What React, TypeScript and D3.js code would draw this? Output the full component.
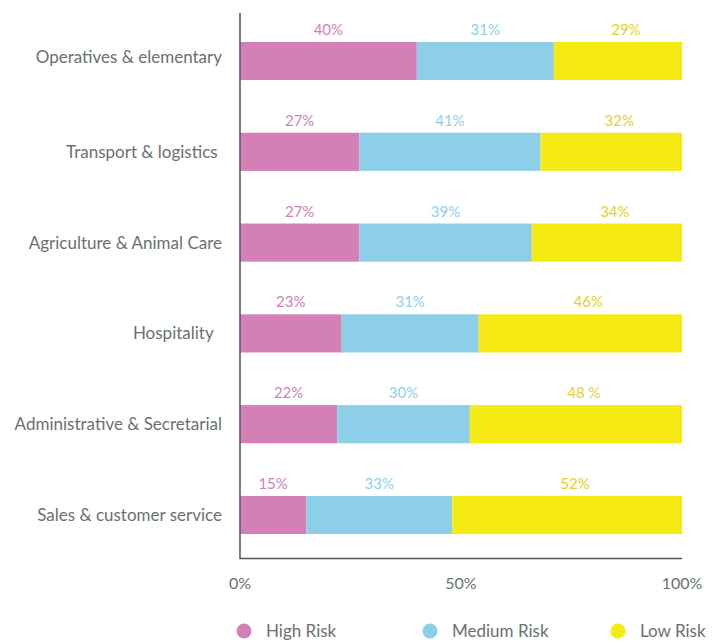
import React, { useRef, useEffect } from 'react';
import * as d3 from 'd3';

const categories = [
  'Operatives & elementary',
  'Transport & logistics ',
  'Agriculture & Animal Care',
  'Hospitality  ',
  'Administrative & Secretarial',
  'Sales & customer service',
];
const highRisk = [40, 27, 27, 23, 22, 15];
const mediumRisk = [31, 41, 39, 31, 30, 33];
const lowRisk = [29, 32, 34, 46, 48, 52];
const seriesNames = ['High Risk', 'Medium Risk', 'Low Risk'];
const tickLabels = [0, 50, 100];

const colors = ['#d480b6', '#8dcfe8', '#f6ea14'];
const labelColors = ['#d47fb8', '#8fd0ea', '#e6cf2a'];

const App = () => {
  const ref = useRef<SVGSVGElement>(null);

  useEffect(() => {
    if (!ref.current) return;
    const svg = d3.select(ref.current);
    svg.selectAll('*').remove();

    const width = 721;
    const height = 641;
    svg.attr('width', width).attr('height', height);

    const left = 240;
    const right = 682;
    const x = d3.scaleLinear().domain([0, 100]).range([left, right]);
    const y = d3
      .scaleBand()
      .domain(categories)
      .range([15.6, 560.4])
      .paddingInner(0.58)
      .paddingOuter(0.29);

    const rows = categories.map((c, i) => ({
      name: c,
      'High Risk': highRisk[i],
      'Medium Risk': mediumRisk[i],
      'Low Risk': lowRisk[i],
    }));
    const stacked = d3.stack<any>().keys(seriesNames)(rows);

    const font = 'Lato, "Open Sans", sans-serif';

    // bars
    stacked.forEach((layer, si) => {
      svg
        .append('g')
        .selectAll('rect')
        .data(layer)
        .enter()
        .append('rect')
        .attr('x', (d) => x(d[0]))
        .attr('y', (d) => y(d.data.name) as number)
        .attr('width', (d) => x(d[1]) - x(d[0]))
        .attr('height', y.bandwidth())
        .attr('fill', colors[si]);

      // value labels above the segments
      svg
        .append('g')
        .selectAll('text')
        .data(layer)
        .enter()
        .append('text')
        .text((d, i) => (si === 2 && i === 4 ? `${d[1] - d[0]} %` : `${d[1] - d[0]}%`))
        .attr('x', (d) => (x(d[0]) + x(d[1])) / 2 + (si === 2 ? 8 : 0))
        .attr('y', (d) => (y(d.data.name) as number) - 7)
        .attr('text-anchor', 'middle')
        .attr('font-size', '15px')
        .attr('fill', labelColors[si])
        .style('font-family', font);
    });

    // axis lines
    svg
      .append('path')
      .attr('d', `M${left},13V${y.range()[1] - 2}H${right}`)
      .attr('fill', 'none')
      .attr('stroke', '#555')
      .attr('stroke-width', 1.5);

    // category labels
    svg
      .append('g')
      .selectAll('text')
      .data(categories)
      .enter()
      .append('text')
      .text((d) => d)
      .attr('x', 222)
      .attr('y', (d, i) => (y(d) as number) + y.bandwidth() / 2 - (i === 0 ? 4 : 0))
      .attr('dy', '0.35em')
      .attr('text-anchor', 'end')
      .attr('font-size', '17px')
      .attr('fill', '#6b706f')
      .style('font-family', font)
      .style('white-space', 'pre');

    // x tick labels
    svg
      .append('g')
      .selectAll('text')
      .data(tickLabels)
      .enter()
      .append('text')
      .text((d) => `${d}%`)
      .attr('x', (d) => x(d))
      .attr('y', 589)
      .attr('text-anchor', 'middle')
      .attr('font-size', '16px')
      .attr('fill', '#6b706f')
      .style('font-family', font);

    // legend
    const legendX = [244, 430, 618];
    const lg = svg
      .append('g')
      .selectAll('g')
      .data(seriesNames)
      .enter()
      .append('g')
      .attr('transform', (d, i) => `translate(${legendX[i]},631)`);
    lg.append('circle').attr('r', 7.5).attr('fill', (d, i) => colors[i]);
    lg.append('text')
      .text((d) => d)
      .attr('x', 22)
      .attr('dy', '0.35em')
      .attr('font-size', '17px')
      .attr('fill', '#6b706f')
      .style('font-family', font);
  }, []);

  return <svg ref={ref} style={{ position: 'absolute', left: 0, top: 0 }} />;
};

export default App;
